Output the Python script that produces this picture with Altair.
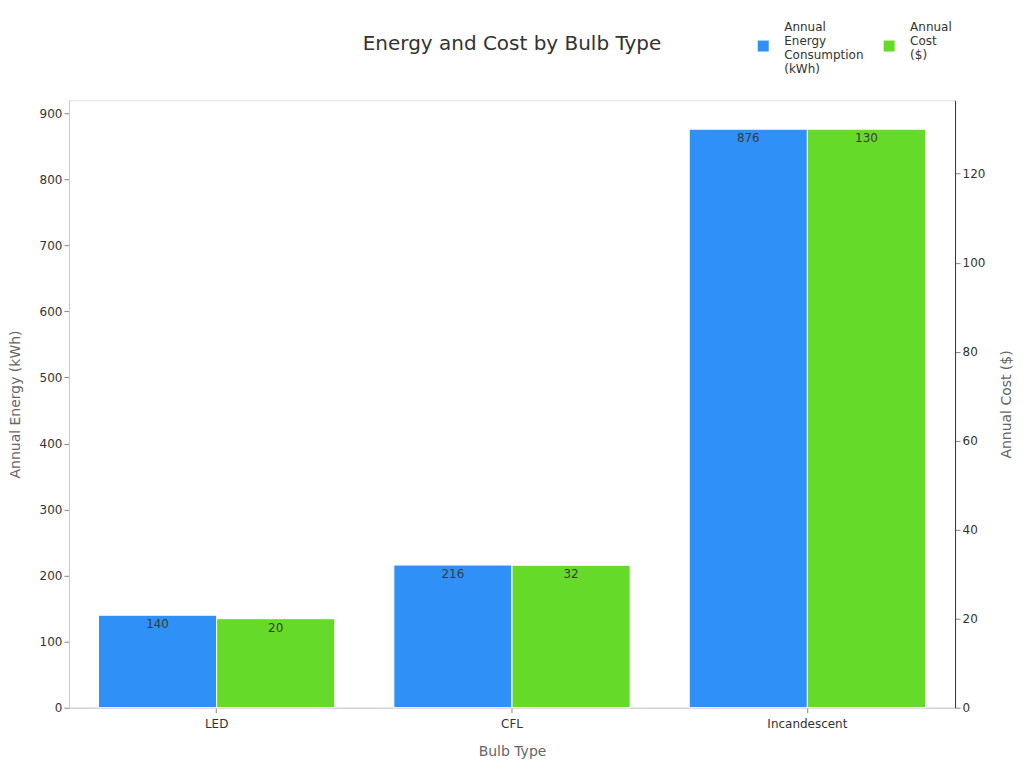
import altair as alt
import pandas as pd

bulbs = ["LED", "CFL", "Incandescent"]
energy = [140, 216, 876]
cost = [20, 32, 130]
series = ["Annual Energy Consumption (kWh)", "Annual Cost ($)"]
colors = ["#2F91F7", "#66DA28"]

rows = []
for b, e, c in zip(bulbs, energy, cost):
    rows.append({"Bulb": b, "Series": series[0], "Value": e})
    rows.append({"Bulb": b, "Series": series[1], "Value": c})
df = pd.DataFrame(rows)

FONT = "DejaVu Sans"
LBL = 12
TTL = 14

x = alt.X("Bulb:N", sort=bulbs, title="Bulb Type",
          scale=alt.Scale(paddingInner=0.2, paddingOuter=0.1),
          axis=alt.Axis(labelAngle=0, domainColor="#cccccc", tickColor="#888888",
                        labelColor="#333333", labelFontSize=LBL, titleColor="#666666",
                        labelPadding=6,
                        titleFontSize=TTL, titleFontWeight="normal", titlePadding=15))
xo = alt.XOffset("Series:N", sort=series, scale=alt.Scale(domain=series, paddingInner=0))
color = alt.Color("Series:N", scale=alt.Scale(domain=series, range=colors),
                  legend=alt.Legend(title=None, orient="none", direction="horizontal",
                                    legendX=689, legendY=-79,
                                    symbolType="M-1,2.4L1,2.4L1,4.4L-1,4.4Z",
                                    symbolSize=121, symbolStrokeWidth=0,
                                    labelFontSize=LBL, labelColor="#333333",
                                    labelExpr="datum.label == 'Annual Cost ($)' ? ['Annual', 'Cost', '($)', ''] : split(datum.label, ' ')",
                                    columnPadding=19, labelOffset=15))

base = alt.Chart(df)

yE = alt.Y("Value:Q", title="Annual Energy (kWh)",
           scale=alt.Scale(domain=[0, 919.8], nice=False),
           axis=alt.Axis(orient="left", grid=False, values=list(range(0, 1000, 100)),
                         domainColor="#cccccc", tickColor="#888888",
                         labelColor="#333333", labelFontSize=LBL, titleColor="#666666",
                         titleFontSize=TTL, titleFontWeight="normal", titlePadding=17))
yC = alt.Y("Value:Q", title="Annual Cost ($)",
           scale=alt.Scale(domain=[0, 136.5], nice=False),
           axis=alt.Axis(orient="right", grid=False, values=list(range(0, 140, 20)),
                         domainColor="#333333", tickColor="#888888",
                         labelColor="#333333", labelFontSize=LBL, titleColor="#666666",
                         titleFontSize=TTL, titleFontWeight="normal", titleAngle=270,
                         titlePadding=29))

eBars = base.transform_filter(alt.datum.Series == series[0]).mark_bar(
    stroke="white", strokeWidth=1).encode(x=x, xOffset=xo, y=yE, color=color)
eText = base.transform_filter(alt.datum.Series == series[0]).mark_text(
    baseline="top", dy=4, color="#3a3a3a", fontSize=12, font=FONT).encode(
    x=x, xOffset=xo, y=yE, text="Value:Q")
cBars = base.transform_filter(alt.datum.Series == series[1]).mark_bar(
    stroke="white", strokeWidth=1).encode(x=x, xOffset=xo, y=yC, color=color)
cText = base.transform_filter(alt.datum.Series == series[1]).mark_text(
    baseline="top", dy=4, color="#3a3a3a", fontSize=12, font=FONT).encode(
    x=x, xOffset=xo, y=yC, text="Value:Q")

chart = alt.layer(alt.layer(eBars, eText), alt.layer(cBars, cText)).resolve_scale(
    y="independent"
).properties(
    width=887, height=608,
    padding={"left": 0, "top": 13, "right": 2, "bottom": 2},
    title=alt.TitleParams("Energy and Cost by Bulb Type", fontSize=20,
                          fontWeight="normal", color="#333333", font=FONT,
                          frame="group", offset=-33)
).configure_view(stroke=None).configure(font=FONT)

chart.save("out.html", embed_options={"renderer": "svg", "actions": False})
